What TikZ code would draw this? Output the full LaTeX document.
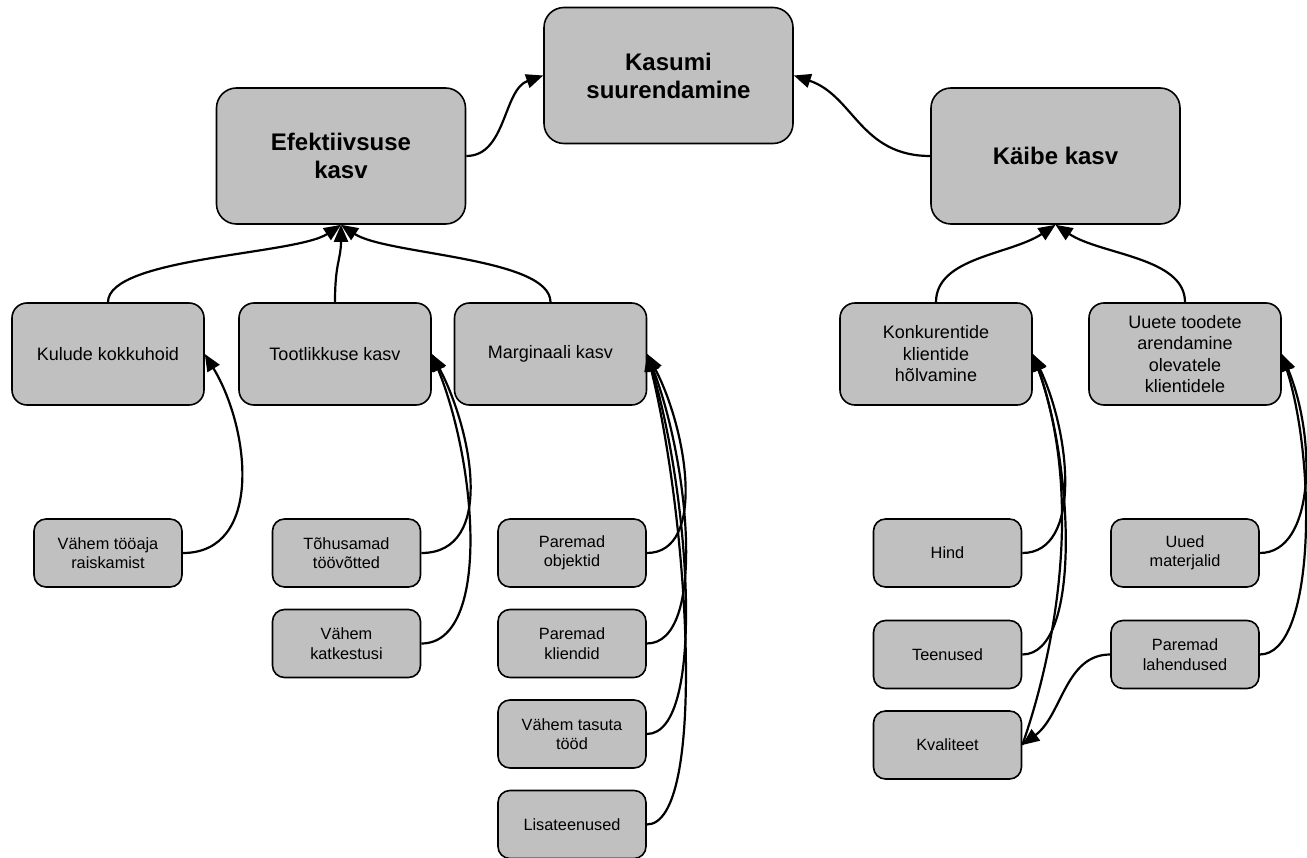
\documentclass[tikz,border=0pt]{standalone}
\usepackage{fontspec}
\setmainfont{Liberation Sans}
\usetikzlibrary{arrows.meta}
\definecolor{boxgray}{HTML}{C0C0C0}
\begin{document}
\begin{tikzpicture}[x=1pt,y=-1pt,
  basebox/.style={draw=black, fill=boxgray, line width=1.6pt, inner sep=0pt, align=center, text=black},
  bigbox/.style={basebox, rounded corners=20pt, minimum width=249pt, minimum height=136pt, font=\fontsize{24}{28}\selectfont\bfseries},
  midbox/.style={basebox, rounded corners=15pt, minimum width=192pt, minimum height=102pt, font=\fontsize{18}{21.5}\selectfont},
  leafbox/.style={basebox, rounded corners=12pt, minimum width=148pt, minimum height=68pt, font=\fontsize{16.3}{19.5}\selectfont},
  conn/.style={line width=2.2pt, -{Triangle[length=17pt 0,width=14pt 0]}}
]
\useasboundingbox (0,0) rectangle (1307,858);

% top level
\node[bigbox] (kas) at (668.5,75.5) {Kasumi\\suurendamine};
\node[bigbox] (efe) at (341,156) {Efektiivsuse\\kasv};
\node[bigbox] (kai) at (1055.5,156) {Käibe kasv};

% middle level
\node[midbox] (kul) at (108,354) {Kulude kokkuhoid};
\node[midbox] (too) at (335,354) {Tootlikkuse kasv};
\node[midbox] (mar) at (550.5,354) {Marginaali kasv};
\node[midbox] (kon) at (936,354) {Konkurentide\\klientide\\hõlvamine};
\node[midbox] (uue) at (1185,354) {Uuete toodete\\arendamine\\olevatele\\klientidele};

% leaves
\node[leafbox] (v1) at (108,553) {Vähem tööaja\\raiskamist};
\node[leafbox] (t1) at (346.5,553) {Tõhusamad\\töövõtted};
\node[leafbox] (t2) at (346.5,643.5) {Vähem\\katkestusi};
\node[leafbox] (m1) at (572,553) {Paremad\\objektid};
\node[leafbox] (m2) at (572,643.5) {Paremad\\kliendid};
\node[leafbox] (m3) at (572,734) {Vähem tasuta\\tööd};
\node[leafbox] (m4) at (572,824.5) {Lisateenused};
\node[leafbox] (h1) at (947.5,553) {Hind};
\node[leafbox] (h2) at (947.5,654.5) {Teenused};
\node[leafbox] (h3) at (947.5,745) {Kvaliteet};
\node[leafbox] (u1) at (1185,553) {Uued\\materjalid};
\node[leafbox] (u2) at (1185,654.5) {Paremad\\lahendused};

% top connectors
\draw[conn] (efe.east) .. controls +(40,0) and +(-40,14) .. (kas.west);
\draw[conn] (kai.west) .. controls +(-70,0) and +(60,20) .. (kas.east);

% into Efektiivsuse
\draw[conn] (kul.north) .. controls +(0,-45) and +(-45,30) .. (efe.south);
\draw[conn] (too.north) .. controls +(0,-40) and +(0,35) .. (efe.south);
\draw[conn] (mar.north) .. controls +(0,-45) and +(45,30) .. (efe.south);

% into Kaibe
\draw[conn] (kon.north) .. controls +(0,-45) and +(-45,30) .. (kai.south);
\draw[conn] (uue.north) .. controls +(0,-45) and +(45,30) .. (kai.south);

% leaves into middle
\draw[conn] (v1.east) .. controls +(80,0) and +(46,76) .. (kul.east);
\draw[conn] (t1.east) .. controls +(75,0) and +(40,76) .. (too.east);
\draw[conn] (t2.east) .. controls +(70,0) and +(45,110) .. (too.east);
\draw[conn] (m1.east) .. controls +(60,0) and +(40,76) .. (mar.east);
\draw[conn] (m2.east) .. controls +(60,0) and +(42,110) .. (mar.east);
\draw[conn] (m3.east) .. controls +(60,0) and +(42,140) .. (mar.east);
\draw[conn] (m4.east) .. controls +(60,0) and +(42,170) .. (mar.east);
\draw[conn] (h1.east) .. controls +(60,0) and +(38,80) .. (kon.east);
\draw[conn] (h2.east) .. controls +(60,0) and +(40,110) .. (kon.east);
\draw[conn] (h3.east) .. controls +(35,-100) and +(50,140) .. (kon.east);
\draw[conn] (u1.east) .. controls +(55,0) and +(35,85) .. (uue.east);
\draw[conn] (u2.east) .. controls +(55,0) and +(35,110) .. (uue.east);
\draw[conn] (u2.west) .. controls +(-45,0) and +(40,-30) .. (h3.east);
\end{tikzpicture}
\end{document}
